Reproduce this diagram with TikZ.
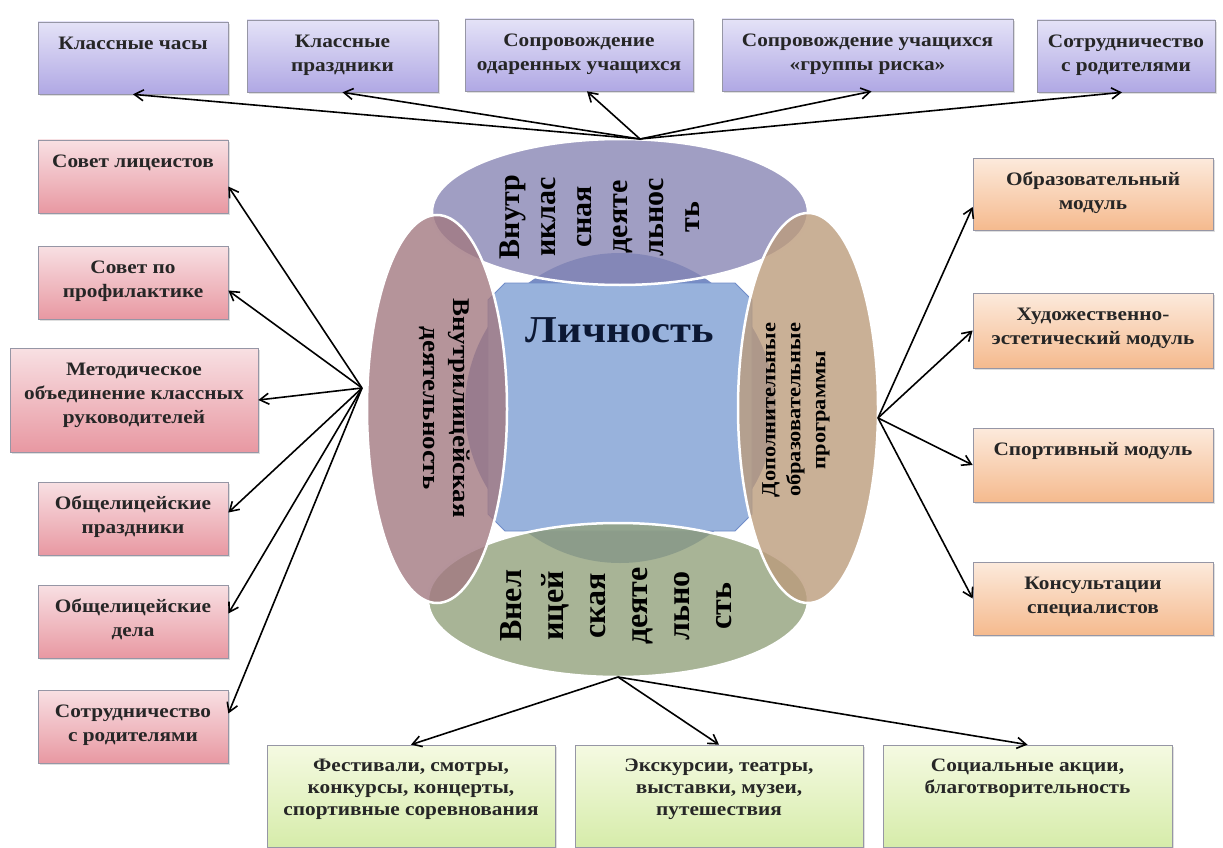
\documentclass[tikz,border=0pt]{standalone}
\usepackage{fontspec}
\setmainfont{Liberation Serif}[FakeStretch=1.12]
\newfontfamily\ellfont{Liberation Serif}
\usetikzlibrary{arrows.meta,shadows}

\definecolor{boxline}{RGB}{150,150,165}
\definecolor{lilactop}{RGB}{228,226,247}
\definecolor{lilacbot}{RGB}{176,168,228}
\definecolor{pinktop}{RGB}{248,224,227}
\definecolor{pinkbot}{RGB}{232,152,162}
\definecolor{peachtop}{RGB}{252,234,220}
\definecolor{peachbot}{RGB}{245,186,142}
\definecolor{limetop}{RGB}{245,250,226}
\definecolor{limebot}{RGB}{214,236,170}
\definecolor{topell}{RGB}{136,134,180}
\definecolor{leftell}{RGB}{162,121,129}
\definecolor{rightell}{RGB}{188,156,124}
\definecolor{botell}{RGB}{146,161,124}
\definecolor{corecirc}{RGB}{120,140,196}
\definecolor{corefill}{RGB}{152,178,220}
\definecolor{coreline}{RGB}{112,140,200}
\definecolor{navy}{RGB}{12,24,52}

\newcommand{\boxfont}{\bfseries\fontsize{19}{24}\selectfont}
\newcommand{\inbox}[3]{\parbox[c][#2][t]{#1}{\centering\vspace*{11pt}\strut #3}}

\tikzset{
  box/.style={draw=boxline, line width=0.7pt, inner sep=0pt, font=\boxfont, text=black!85,
    drop shadow={opacity=0.25, shadow xshift=1.5pt, shadow yshift=-2pt}},
  lilac/.style={box, top color=lilactop, bottom color=lilacbot},
  pink/.style={box, top color=pinktop, bottom color=pinkbot},
  peach/.style={box, top color=peachtop, bottom color=peachbot},
  lime/.style={box, top color=limetop, bottom color=limebot, font=\bfseries\fontsize{19}{22}\selectfont},
  petal/.style={draw=white, line width=2.5pt, fill opacity=0.8},
  link/.style={->, line width=1.6pt, black},
}

\begin{document}
\begin{tikzpicture}[x=1pt, y=-1pt, >={Straight Barb[length=9pt,width=11pt]}]

\useasboundingbox (0,0) rectangle (1223,848);

\coordinate (hubT) at (640,139);
\coordinate (hubL) at (362,388);
\coordinate (hubR) at (878,418);
\coordinate (hubB) at (618,677);

% centre
\fill[corecirc] (620,408) circle (155);
\draw[coreline, fill=corefill, line width=0.8pt]
(488,300)--(505,283)--(735,283)--(752,300)--(752,514)--(735,531)--(505,531)--(488,514)--cycle;

\draw[petal, fill=topell] (620,212) ellipse (188 and 73);
\draw[petal, fill=botell] (618,600) ellipse (190 and 77);
\draw[petal, fill=leftell] (437,409) ellipse (70 and 194);
\draw[petal, fill=rightell] (808,408) ellipse (70 and 195);

\node [font=\bfseries\fontsize{38}{42}\selectfont, text=navy] (lichnost) at (620,330) {Личность};
\node [font=\ellfont\bfseries\fontsize{30}{36}\selectfont, rotate=90, align=center] (vnutrikl) at (600,217)
  {Внутр\\иклас\\сная\\деяте\\льнос\\ть};
\node [font=\ellfont\bfseries\fontsize{32}{42}\selectfont, rotate=90, align=center] (vnelic) at (616,606)
  {Внел\\ицей\\ская\\деяте\\льно\\сть};
\node [font=\bfseries\fontsize{24}{30}\selectfont, rotate=-90, align=center] (vnutrilic) at (445,408)
  {Внутрилицейская\\деятельность};
\node [font=\bfseries\fontsize{20}{25}\selectfont, rotate=90, align=center] (dopobr) at (796,410)
  {Дополнительные\\образовательные\\программы};

% top row
\node [lilac] (t1) at (133,58) {\inbox{190pt}{72pt}{Классные часы}};
\node [lilac] (t2) at (342.5,56) {\inbox{191pt}{72pt}{Классные\\праздники}};
\node [lilac] (t3) at (579,55) {\inbox{228pt}{72pt}{Сопровождение\\одаренных учащихся}};
\node [lilac] (t4) at (867.5,55) {\inbox{291pt}{72pt}{Сопровождение учащихся\\«группы риска»}};
\node [lilac] (t5) at (1126,56) {\inbox{178pt}{72pt}{Сотрудничество\\с родителями}};

% left column
\node [pink] (l1) at (133,176.5) {\inbox{190pt}{73pt}{Совет лицеистов}};
\node [pink] (l2) at (133,282.5) {\inbox{190pt}{73pt}{Совет по\\профилактике}};
\node [pink] (l3) at (134,400) {\inbox{248pt}{104pt}{Методическое\\объединение классных\\руководителей}};
\node [pink] (l4) at (133,518.5) {\inbox{190pt}{73pt}{Общелицейские\\праздники}};
\node [pink] (l5) at (133,621.5) {\inbox{190pt}{73pt}{Общелицейские\\дела}};
\node [pink] (l6) at (133,726.5) {\inbox{190pt}{73pt}{Сотрудничество\\с родителями}};

% right column
\node [peach] (r1) at (1093,194) {\inbox{240pt}{72pt}{Образовательный\\модуль}};
\node [peach] (r2) at (1093,330.5) {\inbox{240pt}{75pt}{Художественно-\\эстетический модуль}};
\node [peach] (r3) at (1093,465) {\inbox{240pt}{74pt}{Спортивный модуль}};
\node [peach] (r4) at (1093,598.5) {\inbox{240pt}{73pt}{Консультации\\специалистов}};

% bottom row
\node [lime] (b1) at (411,796) {\inbox{288pt}{102pt}{Фестивали, смотры,\\конкурсы, концерты,\\спортивные соревнования}};
\node [lime] (b2) at (719,796) {\inbox{288pt}{102pt}{Экскурсии, театры,\\выставки, музеи,\\путешествия}};
\node [lime] (b3) at (1027.5,796) {\inbox{289pt}{102pt}{Социальные акции,\\благотворительность}};

\foreach \b/\s in {t1/0, t2/0, t3/8, t4/4, t5/-4}
  \draw [link] (hubT) -- ([xshift=\s pt]\b.south);
\foreach \b/\s in {l1/-10, l2/-8, l3/0, l4/6, l5/8, l6/13}
  \draw [link] (hubL) -- ([yshift=\s pt]\b.east);
\foreach \b/\s in {r1/-13, r2/0, r3/0, r4/0}
  \draw [link] (hubR) -- ([yshift=\s pt]\b.west);
\foreach \b in {b1, b2, b3}
  \draw [link] (hubB) -- (\b.north);

\end{tikzpicture}
\end{document}
